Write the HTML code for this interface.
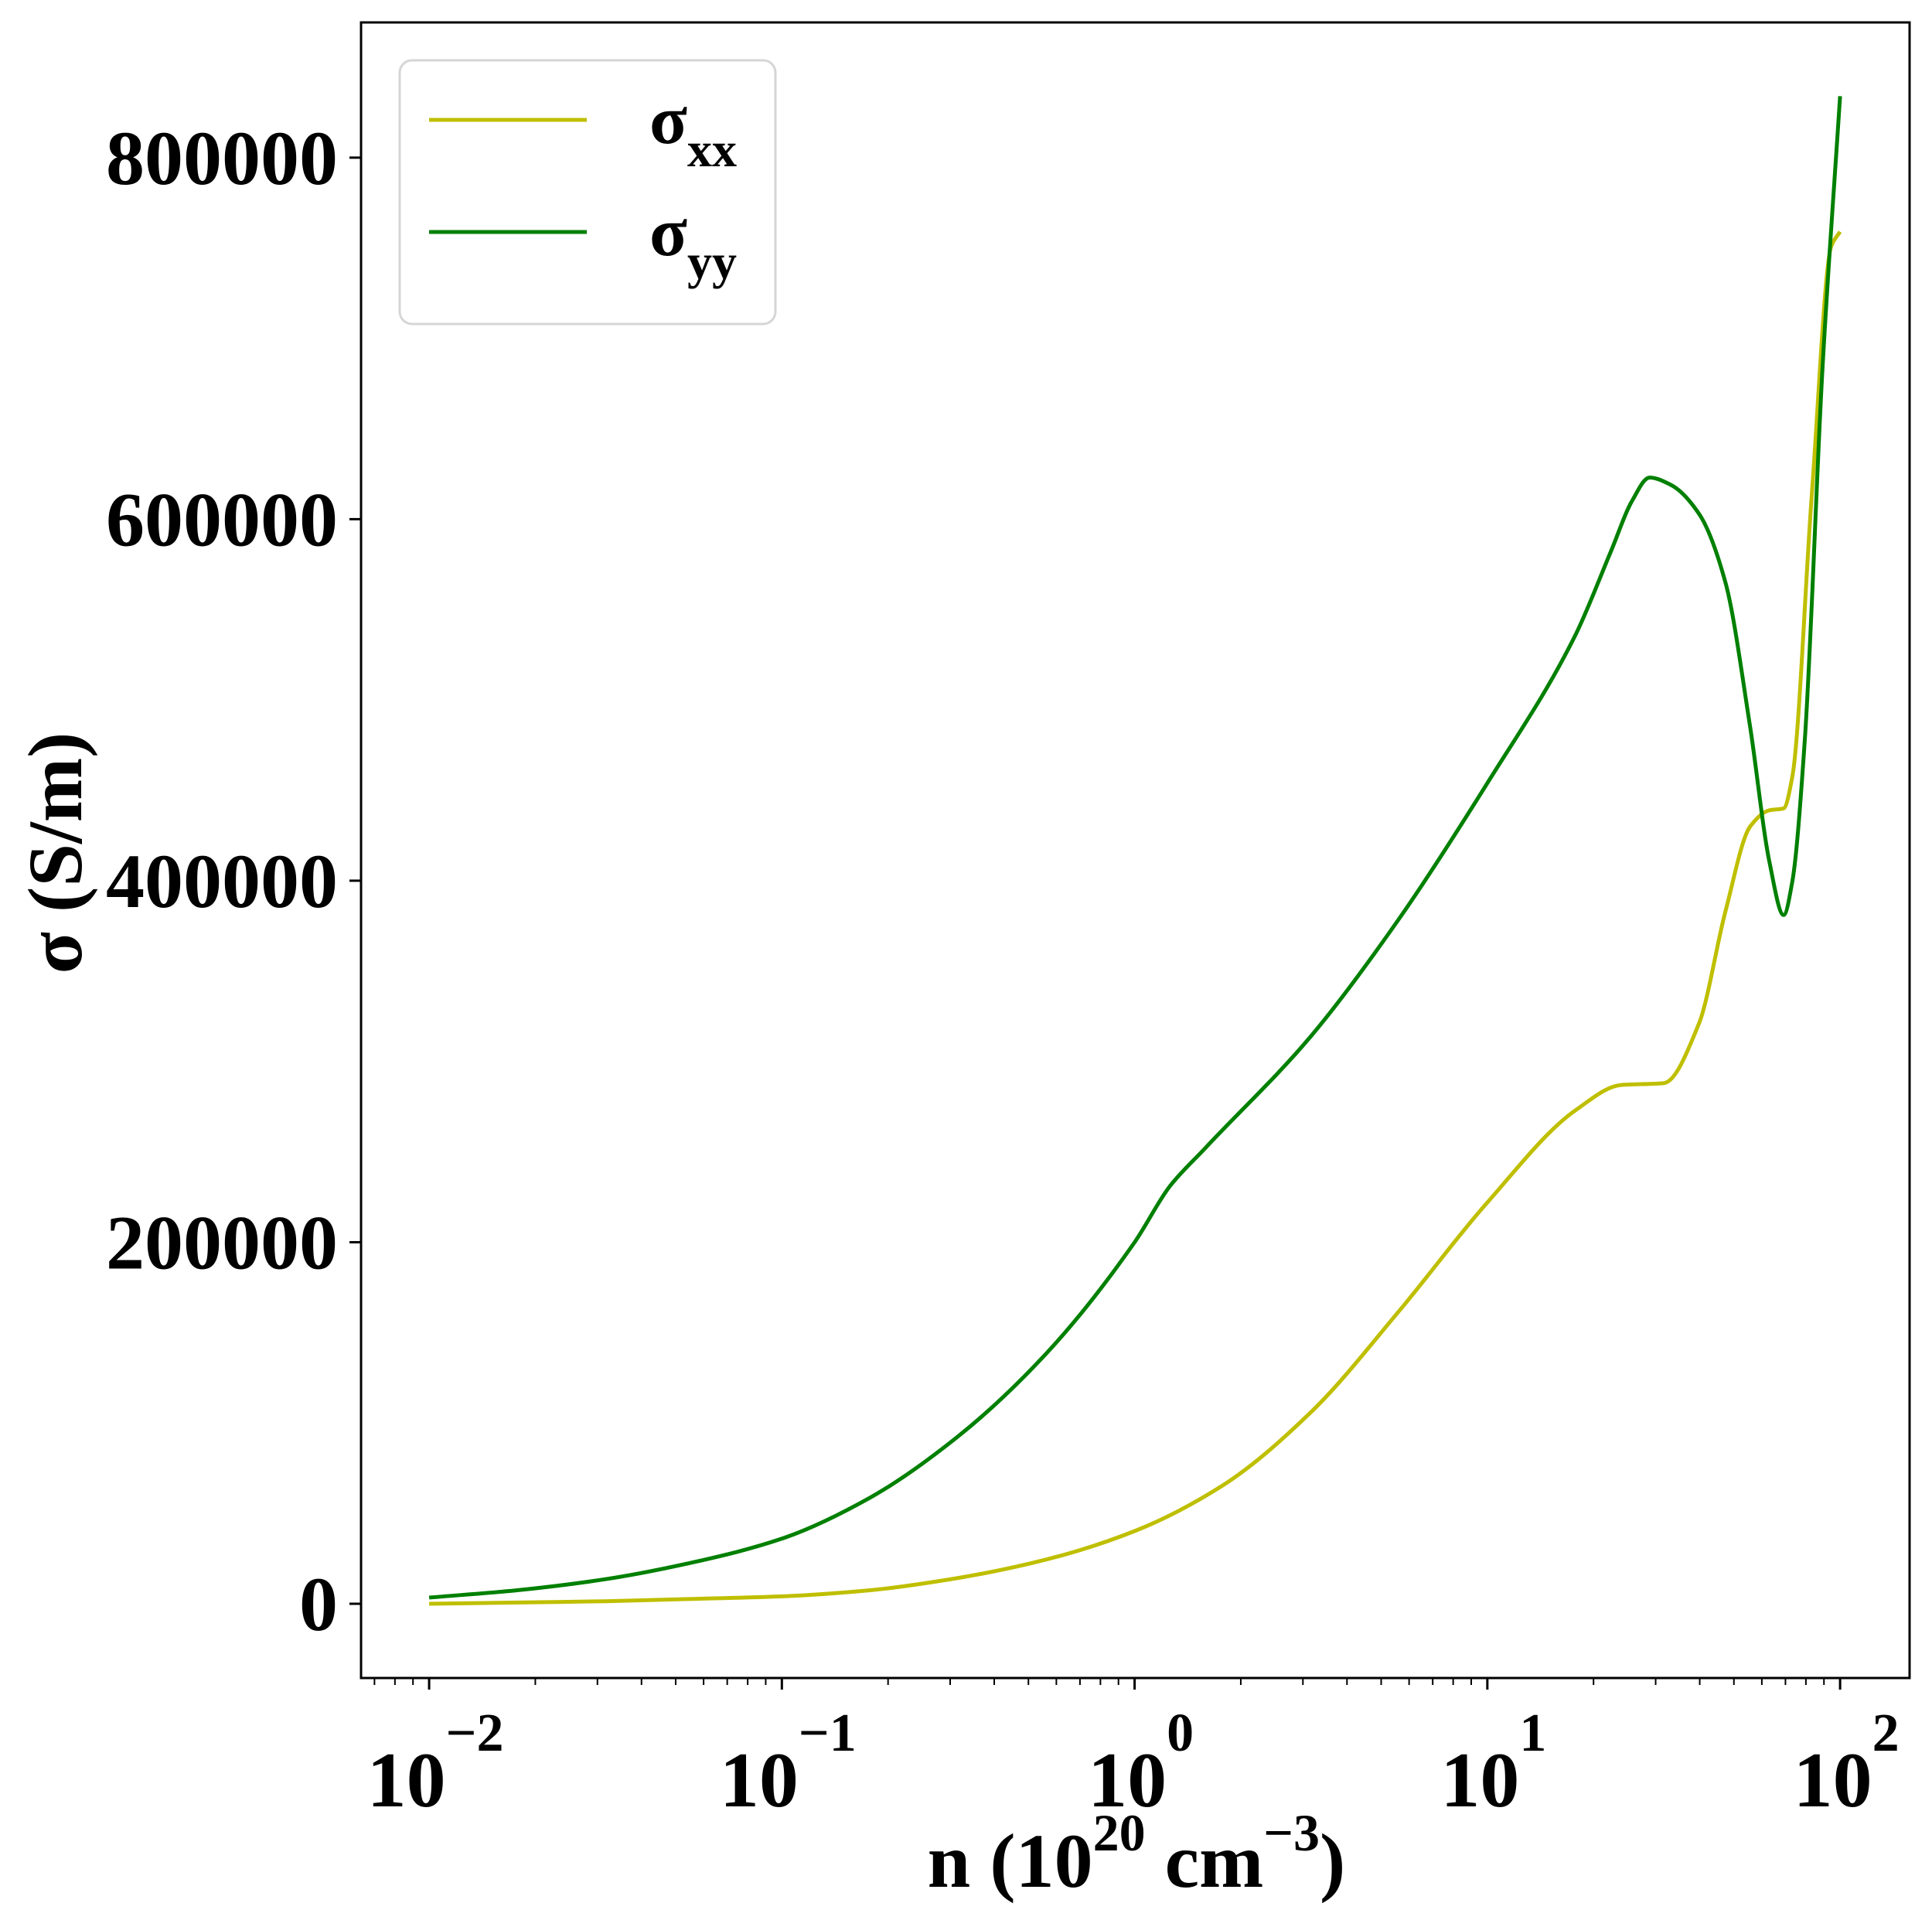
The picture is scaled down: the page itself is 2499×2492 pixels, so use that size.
<!DOCTYPE html>
<html><head><meta charset="utf-8"><style>
html,body{margin:0;padding:0;background:#fff;}
svg{display:block;font-family:"Liberation Serif","DejaVu Serif",serif;font-weight:bold;}
</style></head><body>
<svg id="chart" xmlns="http://www.w3.org/2000/svg" width="2499" height="2492" viewBox="0 0 2499 2492">
<rect x="0" y="0" width="2499" height="2492" fill="#fff"/>
<g id="plot"></g>
<g id="axes"></g>
<g>
  <rect x="517" y="78" width="486" height="341" rx="16" ry="16" fill="#fff" fill-opacity="0.8" stroke="#d6d6d6" stroke-width="3"/>
  <line x1="555" y1="155" x2="759" y2="155" stroke="#bfbf00" stroke-width="5"/>
  <text x="840" y="185" font-size="90">σ<tspan font-size="64" dy="30">xx</tspan></text>
  <line x1="555" y1="300" x2="759" y2="300" stroke="#008000" stroke-width="5"/>
  <text x="840" y="330" font-size="90">σ<tspan font-size="64" dy="30">yy</tspan></text>
</g>
<text x="1470" y="2440" font-size="100" text-anchor="middle">n (10<tspan font-size="68" dy="-47">20</tspan><tspan dy="47"> cm</tspan><tspan font-size="68" dy="-47">−3</tspan><tspan dy="47">)</tspan></text>
<text transform="translate(105,1103) rotate(-90)" font-size="100" text-anchor="middle">σ (S/m)</text>
</svg>
<script>
// data (log10 n, sigma values in S/m)
const logNxx = [-2,-1.75,-1.5,-1.25,-1,-0.75,-0.5,-0.25,0,0.25,0.5,0.75,1,1.25,1.38,1.5,1.6,1.675,1.745,1.8,1.84,1.865,1.92,1.975,2];
const sigmaXX = [0,700,1400,2700,4100,7500,14300,24500,40200,65500,106000,162000,222000,273000,287000,288000,321000,383000,430000,439000,440000,458000,614000,751000,759000];
const logNyy = [-2,-1.75,-1.5,-1.25,-1,-0.75,-0.5,-0.25,0,0.1,0.2,0.5,0.75,1,1.25,1.35,1.41,1.46,1.52,1.6,1.675,1.745,1.8,1.84,1.865,1.9,1.95,2];
const sigmaYY = [3400,7500,13600,23000,36000,58700,92700,138500,200000,231000,252000,314000,379000,454000,536000,582000,610000,623000,619000,603000,565000,485000,410000,381000,400000,478000,683000,834000];
const yTicks = [0,200000,400000,600000,800000];
const yTickLabels = ["0","200000","400000","600000","800000"];
const xTickExps = [-2,-1,0,1,2];
const xTickLabels = ["−2","−1","0","1","2"];

const L=467,R=2470,T=29,B=2170;
const XMIN=-2.193,XMAX=2.197,YMIN=-41070,YMAX=874800;
function sx(lg){return L+(lg-XMIN)/(XMAX-XMIN)*(R-L);}
function sy(v){return B-(v-YMIN)/(YMAX-YMIN)*(B-T);}
const NS="http://www.w3.org/2000/svg";
function mk(tag,attrs,parent){const e=document.createElementNS(NS,tag);for(const k in attrs)e.setAttribute(k,attrs[k]);parent.appendChild(e);return e;}
function pathFrom(xs,ys){
  const X=xs.map(sx),Y=ys.map(sy),n=X.length;
  const d=[],m=new Array(n);
  for(let i=0;i<n-1;i++)d.push((Y[i+1]-Y[i])/(X[i+1]-X[i]));
  m[0]=d[0];m[n-1]=d[n-2];
  for(let i=1;i<n-1;i++){
    if(d[i-1]*d[i]<=0)m[i]=0;
    else{const h0=X[i]-X[i-1],h1=X[i+1]-X[i];const w1=2*h1+h0,w2=h1+2*h0;m[i]=(w1+w2)/(w1/d[i-1]+w2/d[i]);}
  }
  let s="M"+X[0].toFixed(1)+","+Y[0].toFixed(1);
  for(let i=0;i<n-1;i++){
    const h=(X[i+1]-X[i])/3;
    s+=" C"+(X[i]+h).toFixed(1)+","+(Y[i]+m[i]*h).toFixed(1)+" "+(X[i+1]-h).toFixed(1)+","+(Y[i+1]-m[i+1]*h).toFixed(1)+" "+X[i+1].toFixed(1)+","+Y[i+1].toFixed(1);
  }
  return s;
}
const plot=document.getElementById('plot');
const lx=mk('path',{d:pathFrom(logNxx,sigmaXX),fill:'none',stroke:'#bfbf00','stroke-width':5,'stroke-linejoin':'round'},plot);


const ly=mk('path',{d:pathFrom(logNyy,sigmaYY),fill:'none',stroke:'#008000','stroke-width':5,'stroke-linejoin':'round'},plot);



const ax=document.getElementById('axes');
const frame=mk('rect',{x:L,y:T,width:R-L,height:B-T,fill:'none',stroke:'#000','stroke-width':3},ax);


yTicks.forEach((v,i)=>{
  const y=sy(v);
  const t=mk('line',{x1:L-15,y1:y,x2:L,y2:y,stroke:'#000','stroke-width':3},ax);
  
  
  const tx=mk('text',{x:L-30,y:y+34,'font-size':100,'text-anchor':'end'},ax);
  tx.textContent=yTickLabels[i];
  
  
});
for(let e=-3;e<=2;e++){
  for(let m=2;m<=9;m++){
    const lg=e+Math.log10(m);
    if(lg<XMIN||lg>XMAX)continue;
    const x=sx(lg);
    const t=mk('line',{x1:x,y1:B,x2:x,y2:B+9,stroke:'#000','stroke-width':2},ax);
    
    
  }
}
xTickExps.forEach((e,i)=>{
  const x=sx(e);
  const t=mk('line',{x1:x,y1:B,x2:x,y2:B+15,stroke:'#000','stroke-width':3},ax);
  
  
  const tx=mk('text',{x:x+8,y:2336,'font-size':102,'text-anchor':'middle'},ax);
  
  
  const a=mk('tspan',{},tx);a.textContent="10";
  const b=mk('tspan',{'font-size':70,dy:-72},tx);b.textContent=xTickLabels[i];
});
</script>
</body></html>
